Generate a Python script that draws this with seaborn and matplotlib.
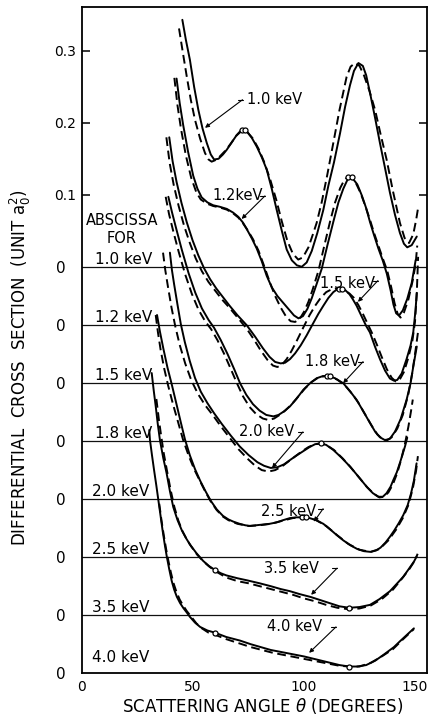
import matplotlib
matplotlib.use("Agg")
import matplotlib.pyplot as plt
import numpy as np
import pandas as pd
import seaborn as sns

# ---------------- data (angle in degrees, cross section relative to own zero line) -------------
ENERGIES = ["1.0 keV", "1.2 keV", "1.5 keV", "1.8 keV", "2.0 keV", "2.5 keV", "3.5 keV", "4.0 keV"]

SOLID_10 = [(45.2,0.343),(46.8,0.315),(48.6,0.2875),(50.5,0.250),(52.4,0.218),(54.3,0.192),(56.2,0.172),
            (58.0,0.156),(59.5,0.149),(61.5,0.150),(63.5,0.156),(65.2,0.1625),(67.5,0.173),(69.7,0.183),
            (71.5,0.189),(72.7,0.190),(74.5,0.187),(76.5,0.179),(78.7,0.167),(81.0,0.152),(83.2,0.135),
            (85.5,0.108),(87.7,0.079),(90.0,0.050),(92.2,0.024),(94.5,0.009),(96.8,0.002),(99.0,0.000),
            (101.2,0.006),(103.5,0.022),(106.0,0.047),(108.7,0.079),(111.0,0.113),(113.5,0.145),
            (116.2,0.185),(118.5,0.222),(120.7,0.252),(122.5,0.272),(124.5,0.283),(126.5,0.279),
            (128.0,0.266),(129.7,0.242),(132.0,0.207),(134.2,0.172),(136.5,0.137),(138.7,0.103),
            (141.0,0.072),(143.2,0.047),(145.0,0.032),(146.5,0.027),(148.5,0.030),(150.8,0.042)]
DASHED_10 = [(43.7,0.331),(45.3,0.300),(47.2,0.264),(49.0,0.232),(50.9,0.204),(53.2,0.178),(55.4,0.158),
             (57.0,0.149),(58.4,0.146),(60.0,0.148),(62.0,0.153),(64.5,0.161),(67.0,0.171),(69.5,0.182),
             (72.0,0.189),(74.5,0.187),(77.0,0.178),(79.5,0.164),(82.0,0.146),(84.7,0.122),(87.5,0.093),
             (90.0,0.063),(92.5,0.036),(95.0,0.018),(97.4,0.010),(99.5,0.013),(102.0,0.027),(104.0,0.045),
             (105.7,0.061),(108.0,0.090),(110.5,0.128),(113.2,0.172),(116.0,0.218),(119.2,0.264),
             (121.0,0.278),(123.0,0.283),(125.0,0.279),(127.0,0.266),(129.5,0.244),(132.0,0.218),
             (134.5,0.184),(137.2,0.149),(140.0,0.106),(143.2,0.061),(145.3,0.040),(147.3,0.033),
             (149.2,0.045),(150.5,0.065),(151.5,0.084)]

SOLID_12 = [(42.6,0.342),(44.0,0.308),(45.6,0.277),(47.8,0.240),(50.1,0.207),(52.0,0.189),(53.9,0.177),
            (56.5,0.170),(59.1,0.166),(62.0,0.164),(65.2,0.161),(68.0,0.156),(70.4,0.150),(72.5,0.142),
            (74.2,0.133),(76.5,0.120),(78.7,0.106),(81.0,0.088),(83.2,0.068),(85.5,0.052),(88.0,0.040),
            (90.5,0.031),(93.0,0.022),(95.5,0.013),(97.5,0.009),(99.5,0.012),(101.5,0.022),(103.5,0.037),
            (105.5,0.055),(108.0,0.078),(110.5,0.110),(113.2,0.143),(115.5,0.170),(117.7,0.189),
            (119.5,0.201),(120.7,0.205),(122.0,0.203),(124.0,0.195),(126.0,0.180),(128.0,0.162),
            (129.7,0.143),(131.5,0.125),(133.5,0.106),(135.5,0.089),(137.3,0.071),(139.0,0.048),
            (140.3,0.028),(141.5,0.016),(142.8,0.013),(144.5,0.020),(146.5,0.036),(148.5,0.058),(150.3,0.090)]
DASHED_12 = [(41.6,0.343),(43.0,0.305),(44.6,0.272),(46.8,0.235),(49.2,0.204),(51.5,0.184),(53.5,0.174),
             (56.5,0.168),(59.1,0.165),(62.0,0.163),(65.2,0.160),(68.0,0.155),(70.4,0.149),(72.5,0.141),
             (74.5,0.132),(77.0,0.119),(79.5,0.103),(82.0,0.082),(84.5,0.060),(87.0,0.040),(89.5,0.024),
             (92.0,0.011),(94.0,0.005),(96.0,0.004),(98.0,0.008),(100.0,0.018),(102.0,0.032),(104.0,0.050),
             (106.5,0.075),(109.0,0.108),(111.7,0.143),(114.0,0.170),(116.3,0.190),(118.3,0.202),
             (119.7,0.205),(121.5,0.203),(123.5,0.196),(125.5,0.183),(127.5,0.166),(129.5,0.148),
             (131.5,0.128),(133.5,0.110),(135.5,0.092),(137.5,0.075),(139.3,0.052),(140.8,0.030),
             (142.2,0.015),(143.5,0.010),(145.0,0.017),(147.0,0.035),(149.0,0.062),(150.3,0.085),(151.0,0.110)]

SOLID_15 = [(39.3,0.341),(40.8,0.308),(42.6,0.279),(44.8,0.250),(47.2,0.223),(49.8,0.198),(52.4,0.177),
            (55.0,0.159),(57.7,0.144),(60.5,0.131),(63.5,0.119),(66.5,0.107),(70.0,0.094),(74.2,0.080),
            (78.0,0.064),(81.5,0.048),(84.5,0.036),(87.0,0.029),(89.5,0.027),(91.5,0.028),(93.7,0.033),
            (96.0,0.041),(98.5,0.052),(101.2,0.066),(104.0,0.082),(106.5,0.096),(108.7,0.107),
            (111.0,0.118),(113.2,0.126),(115.0,0.130),(116.5,0.131),(118.5,0.129),(120.5,0.123),
            (122.0,0.116),(123.7,0.107),(126.0,0.092),(128.0,0.079),(129.7,0.070),(132.0,0.050),
            (134.2,0.033),(136.5,0.017),(138.7,0.006),(140.5,0.003),(142.0,0.004),(144.0,0.013),
            (146.2,0.033),(148.0,0.052),(149.2,0.070),(150.2,0.100),(150.8,0.125)]
DASHED_15 = [(38.0,0.341),(39.5,0.305),(41.3,0.275),(43.5,0.246),(46.0,0.218),(48.6,0.194),(51.2,0.173),
             (54.0,0.155),(57.0,0.140),(60.0,0.128),(63.0,0.116),(66.5,0.104),(70.0,0.091),(74.0,0.076),
             (77.5,0.060),(80.5,0.045),(83.5,0.032),(86.0,0.024),(88.0,0.022),(90.0,0.025),(92.2,0.033),
             (94.5,0.045),(97.0,0.060),(99.7,0.077),(102.5,0.094),(105.0,0.107),(107.5,0.118),
             (110.0,0.126),(112.5,0.130),(114.5,0.131),(116.5,0.130),(118.5,0.128),(120.5,0.124),
             (122.5,0.118),(124.5,0.108),(126.5,0.096),(128.5,0.083),(130.5,0.070),(132.7,0.054),
             (135.0,0.036),(137.3,0.019),(139.5,0.007),(141.3,0.002),(143.0,0.004),(145.0,0.015),
             (147.0,0.035),(148.8,0.058),(150.0,0.085),(150.8,0.125),(151.4,0.175)]

SOLID_18 = [(38.9,0.339),(40.5,0.318),(42.5,0.294),(45.0,0.265),(48.0,0.233),(51.0,0.206),(54.0,0.184),
            (57.0,0.168),(59.5,0.157),(62.5,0.140),(65.5,0.121),(68.5,0.100),(71.2,0.080),(74.0,0.064),
            (77.0,0.051),(80.0,0.042),(83.0,0.036),(86.2,0.034),(88.5,0.036),(91.0,0.041),(93.7,0.048),
            (96.5,0.058),(99.7,0.071),(102.7,0.080),(105.7,0.087),(108.5,0.090),(111.0,0.090),
            (114.0,0.087),(117.7,0.080),(120.7,0.069),(123.7,0.057),(126.7,0.041),(129.7,0.025),
            (132.0,0.013),(134.2,0.005),(136.5,0.001),(138.7,0.003),(141.0,0.013),(143.5,0.030),
            (146.2,0.057),(148.0,0.080),(149.2,0.103),(150.8,0.131)]
DASHED_18 = [(37.7,0.339),(39.2,0.315),(41.2,0.290),(43.6,0.262),(46.5,0.231),(49.5,0.204),(52.5,0.182),
             (55.5,0.166),(58.2,0.155),(61.0,0.140),(64.0,0.121),(67.0,0.100),(69.8,0.080),(72.5,0.062),
             (75.5,0.047),(78.5,0.037),(81.5,0.031),(84.0,0.029),(86.5,0.031),(89.0,0.036),(91.5,0.042),
             (94.5,0.051),(97.5,0.062),(100.5,0.073),(103.5,0.082),(106.5,0.088),(109.5,0.090),
             (112.0,0.089),(115.0,0.085),(118.5,0.077),(121.5,0.066),(124.5,0.053),(127.5,0.037),
             (130.5,0.021),(133.0,0.009),(135.5,0.002),(137.5,0.001),(139.5,0.005),(142.0,0.017),
             (144.5,0.036),(147.0,0.065),(148.8,0.095),(150.2,0.125),(151.3,0.150)]

SOLID_20 = [(39.6,0.342),(40.5,0.318),(41.5,0.298),(43.0,0.270),(44.5,0.243),(46.3,0.218),(48.5,0.192),
            (50.9,0.168),(53.5,0.149),(56.5,0.133),(59.5,0.119),(63.0,0.104),(67.0,0.088),(71.0,0.073),
            (75.0,0.061),(79.0,0.051),(82.0,0.046),(85.0,0.043),(88.0,0.044),(91.0,0.048),(93.7,0.054),
            (96.5,0.060),(99.5,0.066),(102.5,0.072),(105.0,0.076),(107.5,0.077),(110.0,0.075),
            (113.2,0.068),(117.0,0.057),(120.7,0.045),(124.5,0.031),(128.2,0.017),(131.0,0.008),
            (133.5,0.003),(135.5,0.003),(137.2,0.008),(139.0,0.017),(140.2,0.026),(141.8,0.037),
            (143.2,0.050),(144.5,0.063),(145.5,0.073),(146.5,0.085)]
DASHED_20 = [(36.5,0.342),(37.5,0.318),(38.7,0.295),(40.3,0.266),(42.0,0.240),(44.0,0.214),(46.5,0.188),
             (49.2,0.165),(52.2,0.146),(55.5,0.130),(59.0,0.116),(62.5,0.101),(66.5,0.085),(70.5,0.069),
             (74.5,0.056),(78.0,0.046),(81.0,0.040),(84.0,0.038),(87.0,0.040),(90.0,0.045),(93.0,0.052),
             (96.0,0.059),(99.0,0.066),(102.0,0.072),(105.0,0.076),(107.5,0.077),(110.0,0.075),
             (113.5,0.068),(117.5,0.056),(121.0,0.044),(125.0,0.029),(128.5,0.016),(131.5,0.007),
             (134.0,0.002),(136.0,0.003),(138.0,0.009),(140.0,0.020),(142.0,0.036),(143.8,0.055),
             (145.5,0.077),(147.0,0.100),(148.2,0.122),(149.0,0.138)]

SOLID_25 = [(33.8,0.336),(35.1,0.313),(36.6,0.290),(38.5,0.263),(40.4,0.240),(42.5,0.213),(44.5,0.187),
            (46.4,0.163),(48.6,0.141),(50.9,0.122),(53.2,0.106),(55.5,0.092),(58.0,0.078),(60.7,0.066),
            (63.5,0.057),(66.0,0.052),(68.2,0.049),(71.0,0.046),(73.5,0.044),(75.7,0.043),(78.5,0.044),
            (81.5,0.045),(84.5,0.046),(87.7,0.048),(90.5,0.051),(93.7,0.054),(96.5,0.055),(99.7,0.055),
            (102.5,0.054),(105.5,0.051),(108.7,0.046),(111.5,0.039),(114.5,0.031),(117.7,0.023),
            (121.0,0.016),(124.0,0.011),(127.0,0.008),(130.0,0.007),(132.5,0.009),(134.5,0.013),
            (136.7,0.020),(138.7,0.028),(140.7,0.037),(142.7,0.047),(144.7,0.058),(146.7,0.072),
            (148.2,0.088),(149.5,0.106),(150.7,0.130)]
DASHED_25 = [(33.2,0.336),(34.2,0.312),(35.4,0.288),(37.0,0.262),(38.8,0.238),(41.0,0.212),(43.3,0.187),
             (45.5,0.163),(48.0,0.141),(50.5,0.122),(53.2,0.105),(55.5,0.091),(58.0,0.077),(60.7,0.065),
             (63.5,0.056),(66.0,0.051),(70.0,0.046),(75.0,0.043),(80.0,0.044),(85.0,0.046),(90.0,0.050),
             (95.0,0.054),(100.0,0.055),(105.0,0.052),(110.0,0.043),(115.0,0.030),(120.0,0.018),
             (125.0,0.010),(130.0,0.007),(134.0,0.011),(138.0,0.023),(141.5,0.038),(144.5,0.054),
             (147.0,0.072),(149.0,0.095),(150.5,0.120),(151.3,0.140)]

SOLID_35 = [(31.4,0.336),(32.3,0.312),(33.2,0.290),(34.1,0.266),(35.1,0.243),(36.6,0.218),(38.1,0.197),
            (39.6,0.172),(41.1,0.150),(43.0,0.132),(44.9,0.118),(46.8,0.107),(48.6,0.098),(51.5,0.086),
            (54.6,0.075),(57.2,0.068),(59.9,0.0625),(62.5,0.058),(65.0,0.055),(70.0,0.051),(74.5,0.048),
            (80.0,0.044),(85.0,0.040),(89.5,0.036),(93.7,0.033),(98.0,0.029),(103.0,0.025),(108.0,0.020),
            (112.0,0.016),(116.0,0.012),(120.4,0.010),(125.0,0.011),(129.7,0.014),(134.0,0.022),
            (138.7,0.033),(142.0,0.044),(144.7,0.053),(147.0,0.063),(149.5,0.074),(150.7,0.081)]
DASHED_35 = [(33.5,0.300),(34.6,0.272),(35.6,0.250),(36.8,0.225),(38.3,0.200),(39.9,0.174),(41.6,0.150),
             (43.4,0.131),(45.3,0.116),(47.2,0.105),(49.0,0.096),(51.8,0.084),(54.8,0.074),(57.4,0.067),
             (60.0,0.061),(65.0,0.052),(70.0,0.047),(75.0,0.044),(80.0,0.040),(85.0,0.036),(90.0,0.032),
             (95.0,0.028),(100.0,0.023),(105.0,0.019),(110.0,0.014),(115.0,0.010),(120.0,0.008),
             (125.0,0.009),(130.0,0.013),(135.0,0.022),(140.0,0.035),(144.0,0.050),(147.5,0.064),
             (149.8,0.075),(151.2,0.085)]

SOLID_40 = [(30.3,0.3375),(30.6,0.324),(31.5,0.303),(32.5,0.281),(33.5,0.260),(34.4,0.240),(35.4,0.218),
            (36.3,0.198),(37.3,0.178),(38.2,0.1615),(39.3,0.144),(40.4,0.128),(41.5,0.116),(42.7,0.106),
            (44.2,0.097),(45.7,0.090),(47.2,0.084),(48.6,0.078),(50.9,0.070),(53.2,0.064),(56.5,0.059),
            (59.9,0.056),(65.0,0.050),(71.2,0.045),(76.0,0.040),(80.5,0.036),(85.0,0.032),(90.0,0.029),
            (95.0,0.026),(100.0,0.023),(104.0,0.020),(108.0,0.017),(112.0,0.014),(116.0,0.011),
            (120.4,0.009),(124.0,0.009),(128.0,0.011),(132.0,0.017),(135.7,0.025),(140.5,0.036),
            (143.2,0.044),(146.0,0.052),(149.5,0.062)]
DASHED_40 = [(34.8,0.235),(35.8,0.212),(36.8,0.192),(37.9,0.172),(38.9,0.156),(40.0,0.140),(41.2,0.125),
             (42.5,0.113),(44.0,0.102),(45.5,0.094),(47.2,0.086),(49.0,0.079),(51.5,0.069),(54.0,0.062),
             (57.0,0.056),(60.0,0.053),(65.0,0.047),(71.0,0.041),(76.0,0.036),(81.0,0.032),(86.0,0.028),
             (91.0,0.025),(96.0,0.022),(101.0,0.019),(106.0,0.016),(111.0,0.013),(116.0,0.010),
             (120.4,0.009),(125.0,0.009),(130.0,0.014),(135.0,0.023),(140.0,0.033),(145.0,0.048),
             (149.5,0.061)]

SOLID = dict(zip(ENERGIES, [SOLID_10, SOLID_12, SOLID_15, SOLID_18, SOLID_20, SOLID_25, SOLID_35, SOLID_40]))
DASHED = dict(zip(ENERGIES, [DASHED_10, DASHED_12, DASHED_15, DASHED_18, DASHED_20, DASHED_25, DASHED_35, DASHED_40]))

# small open circles on the curves
CIRCLES = [("1.0 keV", 72.0, 0.190), ("1.0 keV", 73.6, 0.190), ("1.2 keV", 120.0, 0.205), ("1.2 keV", 121.5, 0.205),
           ("1.5 keV", 115.7, 0.131), ("1.5 keV", 117.2, 0.131), ("1.8 keV", 110.2, 0.090), ("1.8 keV", 111.7, 0.090),
           ("2.0 keV", 107.5, 0.077), ("2.5 keV", 99.2, 0.055), ("2.5 keV", 100.8, 0.055),
           ("3.5 keV", 59.9, 0.0625), ("3.5 keV", 120.4, 0.010), ("4.0 keV", 59.9, 0.056), ("4.0 keV", 120.4, 0.009)]

# curve labels: energy, text, text x, text y, leader start (x, y), arrow tip (x, y)  (y relative to own zero)
CURVE_LABELS = [("1.0 keV", "1.0 keV", 74.3, 0.232, 72.3, 0.232, 55.4, 0.193),
                ("1.2 keV", "1.2keV", 58.6, 0.179, 82.4, 0.179, 71.9, 0.147),
                ("1.5 keV", "1.5 keV", 107.2, 0.1375, 133.3, 0.142, 124.3, 0.1125),
                ("1.8 keV", "1.8 keV", 100.5, 0.110, 126.6, 0.110, 117.6, 0.080),
                ("2.0 keV", "2.0 keV", 70.7, 0.093, 99.5, 0.093, 85.6, 0.043),
                ("2.5 keV", "2.5 keV", 80.6, 0.0625, 108.6, 0.067, 104.5, 0.049),
                ("3.5 keV", "3.5 keV", 82.0, 0.065, 114.9, 0.065, 103.2, 0.028),
                ("4.0 keV", "4.0 keV", 83.3, 0.064, 114.4, 0.064, 102.3, 0.028)]

UPPER_TICKS = [0.1, 0.2, 0.3]
X_MAJOR = [0, 50, 100, 150]

# ---------------- layout ----------------
STEP = 0.0806          # vertical offset between successive zero lines
offset = {e: (len(ENERGIES) - 1 - i) * STEP for i, e in enumerate(ENERGIES)}

rows = []
for e in ENERGIES:
    for kind, src in (("solid", SOLID), ("dashed", DASHED)):
        for order, (a, v) in enumerate(src[e]):
            rows.append({"angle": a, "y": v + offset[e], "curve": f"{e}-{kind}", "kind": kind, "order": order})
df = pd.DataFrame(rows)

sns.set_theme(style="white")
plt.rcParams["font.family"] = ["DejaVu Sans"]
plt.rcParams["mathtext.fontset"] = "dejavusans"
for k in ("text.color", "axes.labelcolor", "xtick.color", "ytick.color", "axes.edgecolor"):
    plt.rcParams[k] = "black"

fig = plt.figure(figsize=(4.28, 7.17), dpi=100)
ax = fig.add_axes([82 / 428, 1 - 673 / 717, (427 - 82) / 428, (673 - 7) / 717])

for e in ENERGIES[:-1]:
    ax.axhline(offset[e], color="#111111", lw=0.9, zorder=1)

sns.lineplot(data=df, x="angle", y="y", units="curve", estimator=None, sort=False,
             style="kind", style_order=["solid", "dashed"],
             dashes={"solid": "", "dashed": (4.5, 2.4)},
             color="black", lw=1.4, legend=False, ax=ax, zorder=3)

cx = [c[1] for c in CIRCLES]
cy = [c[2] + offset[c[0]] for c in CIRCLES]
ax.plot(cx, cy, "o", ms=3.6, mfc="white", mec="black", mew=0.9, zorder=4)

ax.set_xlim(0, 155.4)
ax.set_ylim(0, (673 - 7) / 720)
ax.set_xlabel("")
ax.set_ylabel("")

ax.set_xticks(X_MAJOR, [str(v) for v in X_MAJOR])
ax.set_xticks([v for v in range(10, 151, 10) if v not in X_MAJOR], minor=True)
ax.tick_params(axis="x", which="major", direction="in", length=7, width=1.1, labelsize=10, pad=5, top=False,
               colors="black")
ax.tick_params(axis="x", which="minor", direction="in", length=3.5, width=1.0, top=False, colors="black")

top0 = offset[ENERGIES[0]]
ax.set_yticks([top0 + v for v in UPPER_TICKS], [f"{v:.1f}" for v in UPPER_TICKS])
ax.set_yticks([offset[e] for e in ENERGIES], ["0"] * len(ENERGIES), minor=True)
ax.tick_params(axis="y", which="major", direction="in", length=6, width=1.1, labelsize=10, pad=4,
               left=True, right=True, colors="black")
ax.tick_params(axis="y", which="minor", length=0, labelsize=11, pad=12, colors="black")

for sp in ax.spines.values():
    sp.set_color("black")
    sp.set_linewidth(1.3)
    sp.set_visible(True)

# abscissa labels
ax.text(18.0, 0.629, "ABSCISSA", ha="center", va="center", fontsize=10.5, color="black")
ax.text(18.0, 0.604, "FOR", ha="center", va="center", fontsize=10.5, color="black")
for i, e in enumerate(ENERGIES):
    xl = 5.9 if i < 4 else 4.5
    dy = 0.0153 if e == "4.0 keV" else 0.0045
    ax.text(xl, offset[e] + dy, e, ha="left", va="baseline", fontsize=11, color="black")

# curve labels with leaders
for e, txt, tx, ty, sx, sy, px, py in CURVE_LABELS:
    o = offset[e]
    ax.text(tx, ty + o, txt, ha="left", va="center", fontsize=10.5, zorder=5, color="black")
    ax.plot([sx - 2.2, sx], [sy + o, sy + o], color="black", lw=0.8, zorder=5)
    ax.annotate("", xy=(px, py + o), xytext=(sx, sy + o),
                arrowprops=dict(arrowstyle="-|>", color="black", lw=0.8, mutation_scale=6,
                                shrinkA=0, shrinkB=0), zorder=5)

fig.text(263 / 428, 1 - 706 / 717, r"SCATTERING ANGLE $\theta$ (DEGREES)", ha="center", va="center",
         fontsize=12, color="black")
fig.text(20 / 428, 1 - 368 / 717, r"DIFFERENTIAL  CROSS  SECTION  (UNIT $\mathrm{a}_0^2$)",
         ha="center", va="center", rotation=90, fontsize=12, color="black")

fig.savefig("out.png", dpi=100)
